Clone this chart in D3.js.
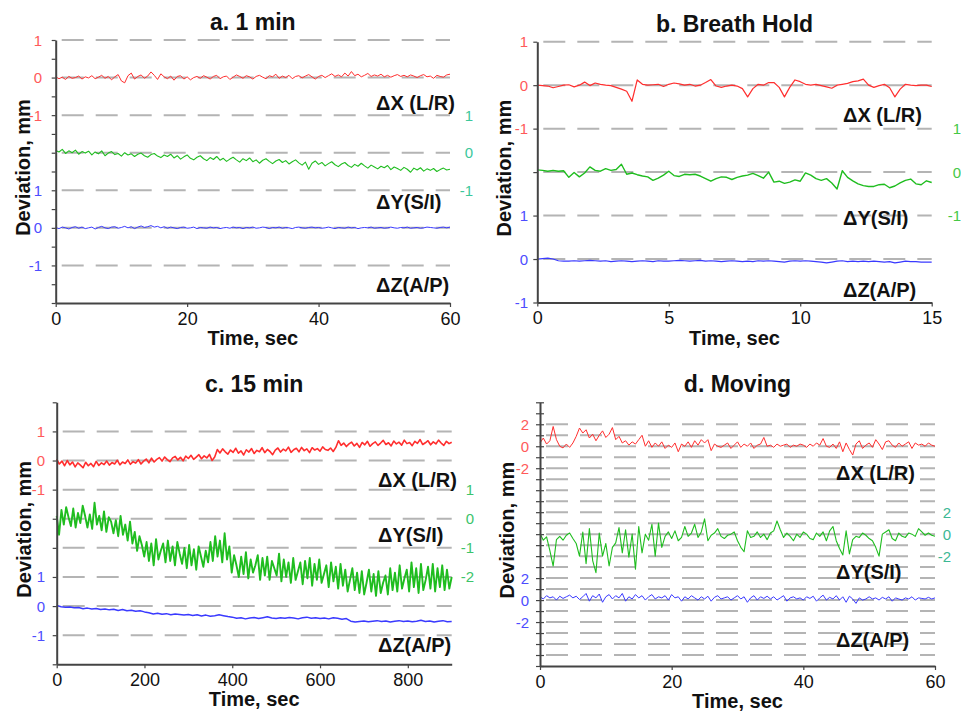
<!DOCTYPE html>
<html>
<head>
<meta charset="utf-8">
<script src="https://cdn.jsdelivr.net/npm/d3@7"></script>
<style>
  body { margin: 0; background: #fff; }
  svg { display: block; font-family: "Liberation Sans", Arial, sans-serif; }
</style>
</head>
<body>
<script>
// ---- data (mm deviation, sampled evenly over each run) ----
const redA = [0.02,-0.03,0.01,-0.05,0.03,-0.02,0.0,0.04,-0.04,0.02,
  -0.01,0.05,-0.03,0.01,0.06,-0.02,0.03,-0.06,0.02,0.08,
  -0.09,-0.14,0.05,0.12,-0.04,0.03,0.07,-0.02,0.04,0.15,
  0.06,-0.05,0.1,0.02,-0.03,0.04,-0.07,0.03,0.05,-0.04,
  0.02,-0.06,0.0,0.03,-0.02,0.05,0.01,-0.04,0.03,0.06,
  -0.03,0.02,0.04,-0.05,0.01,0.07,0.03,-0.02,0.05,0.02,
  -0.04,0.03,0.06,0.01,-0.03,0.05,0.02,0.09,-0.02,0.04,
  0.0,0.06,-0.03,0.03,0.05,-0.01,0.04,0.08,0.02,-0.04,
  0.03,0.06,0.0,0.05,0.1,0.03,0.07,0.02,0.12,0.04,
  0.16,0.05,0.09,0.02,0.06,0.11,0.03,0.07,0.04,0.09,
  0.02,0.06,0.01,0.05,0.08,0.03,0.06,0.02,0.07,0.04,
  0.0,0.05,0.08,0.02,0.04,-0.02,0.06,0.03,0.01,0.07,0.09];
const greenA = [0.06,0.02,0.09,-0.02,0.05,0.0,0.07,-0.04,0.03,-0.01,
  0.04,-0.06,0.02,-0.03,0.05,-0.08,-0.01,0.03,-0.05,-0.02,
  -0.09,0.0,-0.06,-0.03,-0.1,-0.04,-0.01,-0.08,-0.12,-0.05,
  -0.02,-0.09,-0.13,-0.06,-0.1,-0.04,-0.14,-0.08,-0.17,-0.11,
  -0.06,-0.15,-0.19,-0.12,-0.08,-0.16,-0.21,-0.13,-0.18,-0.1,
  -0.2,-0.15,-0.23,-0.17,-0.12,-0.19,-0.25,-0.16,-0.21,-0.14,
  -0.24,-0.19,-0.28,-0.2,-0.16,-0.23,-0.29,-0.22,-0.18,-0.26,
  -0.21,-0.3,-0.24,-0.19,-0.27,-0.33,-0.25,-0.44,-0.28,-0.22,
  -0.31,-0.26,-0.35,-0.29,-0.24,-0.32,-0.37,-0.3,-0.26,-0.34,
  -0.39,-0.31,-0.36,-0.28,-0.35,-0.41,-0.33,-0.38,-0.43,-0.36,
  -0.4,-0.34,-0.45,-0.38,-0.42,-0.47,-0.39,-0.44,-0.52,-0.41,
  -0.46,-0.4,-0.49,-0.43,-0.47,-0.42,-0.5,-0.45,-0.41,-0.46,-0.44];
const blueA = [0.01,-0.02,0.02,0.0,-0.03,0.01,0.03,-0.01,0.02,-0.02,
  0.0,0.02,-0.03,0.01,0.04,0.0,-0.02,0.02,0.03,-0.01,
  0.01,0.04,0.0,0.03,-0.02,0.02,0.05,0.01,0.03,0.06,
  0.02,0.04,0.0,0.03,-0.01,0.02,0.0,-0.02,0.01,0.02,
  -0.01,0.0,0.02,-0.02,0.01,0.0,-0.01,0.02,0.0,0.01,
  -0.02,0.0,0.01,-0.01,0.02,0.0,0.01,-0.02,0.01,0.0,
  0.02,-0.01,0.0,0.02,0.01,-0.02,0.01,0.0,0.02,-0.01,
  0.01,0.0,-0.02,0.01,0.02,0.0,-0.01,0.01,0.02,0.0,
  0.01,-0.01,0.0,0.02,0.0,-0.02,0.01,0.0,-0.01,0.02,
  0.0,0.01,-0.02,0.0,0.01,0.0,0.02,-0.01,0.0,0.01,
  -0.01,0.0,0.02,0.0,-0.01,0.01,0.0,0.02,-0.01,0.0,
  0.01,-0.01,0.0,0.02,0.01,0.0,-0.01,0.01,0.02,0.0,0.02];

const redB = [0.0,-0.01,-0.02,-0.06,-0.03,0.0,0.01,-0.04,0.0,0.07,
  -0.01,0.05,0.02,0.0,-0.01,-0.05,-0.09,-0.14,-0.37,0.12,
  0.02,0.0,0.01,0.02,-0.03,0.02,0.05,0.03,0.0,0.02,
  -0.02,0.0,0.06,0.13,-0.02,-0.05,-0.02,0.0,-0.02,-0.08,
  -0.27,-0.08,0.02,0.0,0.06,0.06,-0.05,-0.27,-0.05,0.12,
  0.08,0.02,0.0,0.02,-0.01,-0.04,-0.07,0.0,0.02,0.04,
  0.08,0.1,0.14,0.0,-0.05,-0.01,0.02,-0.06,-0.27,-0.09,
  0.02,0.0,-0.01,0.0,0.0,-0.03];
const greenB = [0.05,0.04,0.02,0.04,0.02,0.03,-0.12,-0.01,-0.11,-0.02,
  0.12,0.04,0.02,0.08,0.04,0.06,0.18,-0.05,-0.02,-0.06,
  -0.09,-0.11,-0.19,-0.14,-0.07,0.02,-0.08,-0.1,-0.05,-0.06,
  -0.05,-0.09,-0.15,-0.21,-0.15,-0.11,-0.12,-0.17,-0.12,-0.09,
  -0.07,-0.03,-0.08,-0.14,0.0,-0.23,-0.21,-0.26,-0.23,-0.18,
  -0.21,-0.02,-0.07,-0.15,-0.19,-0.15,-0.25,-0.39,0.03,-0.12,
  -0.2,-0.27,-0.31,-0.33,-0.33,-0.29,-0.28,-0.36,-0.32,-0.25,
  -0.19,-0.16,-0.27,-0.29,-0.2,-0.24];
const blueB = [0.0,0.01,0.02,0.0,-0.04,-0.05,-0.05,-0.04,-0.05,-0.04,
  -0.03,-0.04,-0.05,-0.04,-0.06,-0.05,-0.04,-0.05,-0.06,-0.05,
  -0.04,-0.05,-0.06,-0.04,-0.05,-0.05,-0.04,-0.03,-0.04,-0.05,
  -0.04,-0.03,-0.05,-0.04,-0.05,-0.06,-0.05,-0.04,-0.05,-0.06,
  -0.05,-0.06,-0.04,-0.05,-0.04,-0.05,-0.06,-0.07,-0.05,-0.04,
  -0.05,-0.04,-0.05,-0.06,-0.07,-0.09,-0.07,-0.05,-0.04,-0.06,
  -0.05,-0.06,-0.05,-0.06,-0.05,-0.06,-0.07,-0.06,-0.09,-0.07,
  -0.05,-0.06,-0.06,-0.07,-0.07,-0.07];

const redC = [0.05,-0.12,-0.02,-0.18,0.0,-0.15,-0.05,-0.22,-0.08,-0.16,
  -0.25,-0.06,-0.18,-0.1,-0.21,-0.03,-0.17,-0.08,-0.14,-0.02,
  -0.16,-0.07,-0.12,0.01,-0.15,-0.05,-0.1,0.02,-0.13,-0.04,
  -0.09,0.03,-0.12,-0.02,0.05,-0.08,0.08,-0.05,0.04,0.1,
  -0.02,0.12,0.03,-0.04,0.09,0.14,0.02,0.11,-0.01,0.15,
  0.07,0.18,0.04,0.12,0.2,0.06,0.16,0.09,0.21,0.0,
  0.12,0.38,0.26,0.4,0.3,0.22,0.36,0.28,0.42,0.25,
  0.33,0.19,0.37,0.29,0.41,0.24,0.35,0.3,0.44,0.27,
  0.38,0.31,0.2,0.36,0.43,0.29,0.39,0.33,0.46,0.28,
  0.37,0.42,0.3,0.45,0.34,0.4,0.27,0.44,0.36,0.41,
  0.32,0.47,0.38,0.35,0.43,0.31,0.45,0.68,0.52,0.6,
  0.48,0.57,0.63,0.5,0.59,0.45,0.62,0.54,0.66,0.49,
  0.58,0.64,0.52,0.6,0.69,0.55,0.61,0.5,0.67,0.57,
  0.63,0.53,0.7,0.58,0.62,0.51,0.66,0.59,0.72,0.55,
  0.61,0.68,0.54,0.64,0.57,0.7,0.6,0.52,0.66,0.58,0.63];
const greenC = [0.1,-0.55,0.3,-0.2,0.4,0.05,-0.25,0.35,-0.3,0.2,
  -0.15,0.45,0.1,-0.3,0.15,-0.35,0.55,-0.2,0.1,-0.4,
  0.25,-0.45,0.05,-0.1,-0.5,-0.05,-0.6,0.1,-0.55,-0.2,
  -0.75,-0.1,-0.85,-0.45,-1.1,-0.6,-0.9,-1.3,-0.8,-1.45,
  -0.85,-1.6,-0.7,-1.4,-1.1,-0.85,-1.5,-0.75,-1.45,-0.95,
  -1.6,-0.8,-1.2,-1.55,-1.0,-1.7,-0.9,-1.6,-1.05,-1.75,
  -0.95,-1.3,-1.65,-1.1,-1.5,-0.8,-1.45,-0.6,-1.3,-0.75,
  -1.5,-0.5,-1.4,-0.95,-1.85,-1.25,-1.6,-2.0,-1.3,-1.9,
  -1.15,-2.05,-1.4,-1.85,-1.6,-1.25,-2.1,-1.35,-1.95,-1.3,
  -2.1,-1.45,-1.7,-1.95,-1.2,-2.15,-1.4,-2.0,-1.5,-2.2,
  -1.35,-2.1,-1.8,-1.5,-2.25,-1.45,-2.05,-1.35,-2.3,-1.55,
  -2.1,-1.4,-2.2,-1.9,-1.6,-2.35,-1.5,-2.15,-1.65,-2.4,
  -1.55,-2.3,-1.75,-2.5,-2.1,-1.7,-2.45,-1.85,-2.55,-1.8,
  -2.6,-2.2,-1.75,-2.5,-1.9,-2.65,-1.8,-2.55,-2.2,-1.95,
  -2.6,-1.7,-2.45,-1.85,-2.5,-1.6,-2.4,-2.05,-1.75,-2.5,
  -1.5,-2.35,-1.7,-2.55,-1.55,-2.45,-2.1,-1.65,-2.4,-1.55,
  -2.5,-1.7,-2.35,-1.6,-2.45,-1.75,-2.4,-2.0];
const blueC = [0.02,-0.02,-0.04,-0.03,-0.06,-0.05,-0.09,-0.07,-0.1,-0.08,
  -0.12,-0.1,-0.13,-0.11,-0.15,-0.12,-0.16,-0.14,-0.18,-0.16,
  -0.2,-0.23,-0.27,-0.25,-0.28,-0.26,-0.3,-0.27,-0.29,-0.31,
  -0.29,-0.32,-0.3,-0.34,-0.31,-0.35,-0.33,-0.3,-0.33,-0.36,
  -0.38,-0.42,-0.4,-0.44,-0.41,-0.39,-0.43,-0.4,-0.37,-0.41,
  -0.43,-0.4,-0.42,-0.39,-0.41,-0.44,-0.4,-0.38,-0.42,-0.4,
  -0.43,-0.41,-0.44,-0.4,-0.42,-0.45,-0.43,-0.52,-0.55,-0.53,
  -0.51,-0.54,-0.52,-0.5,-0.53,-0.51,-0.55,-0.52,-0.5,-0.53,
  -0.51,-0.54,-0.52,-0.49,-0.53,-0.51,-0.55,-0.52,-0.5,-0.54,-0.53];

const redD = [0.3,0.75,0.2,0.5,1.8,0.6,0.0,-0.15,0.2,-0.1,
  0.3,0.9,1.66,1.2,1.5,0.75,1.1,0.5,1.0,1.4,
  0.8,1.1,1.7,0.6,0.9,0.3,0.5,0.1,0.4,0.2,
  0.6,1.0,0.0,0.5,-0.1,0.3,0.0,0.4,-0.2,0.1,
  -0.1,0.3,-0.5,0.2,0.0,0.4,-0.1,0.5,0.1,0.6,
  0.3,0.6,-0.4,0.2,0.0,-0.1,0.1,0.3,-0.2,0.1,
  0.4,-0.1,0.2,0.0,0.3,-0.2,0.1,0.2,0.8,0.0,
  0.1,-0.1,0.2,0.0,0.1,0.2,-0.1,0.1,0.0,0.2,
  0.1,-0.1,0.2,0.0,0.3,0.1,0.7,0.0,-0.1,0.2,
  -0.2,0.4,-0.5,0.3,-0.3,-0.8,0.2,0.5,-0.2,0.1,
  0.3,-0.1,0.6,0.2,-0.3,0.4,0.5,0.1,-0.1,0.3,
  0.0,0.2,0.4,-0.2,0.3,0.1,0.2,0.0,0.3,0.1,0.0];
const greenD = [0.06,-0.55,-0.24,-1.5,-2.9,-0.5,-0.2,-0.55,-0.1,0.1,
  -0.4,-0.85,-2.0,0.2,-2.7,0.5,-2.4,-3.5,0.1,-2.0,
  -0.85,-2.9,-1.2,-0.8,0.6,-1.7,0.4,-2.1,0.0,-3.2,
  0.7,-1.7,0.0,-0.55,0.9,-2.0,1.0,-1.2,-0.2,0.2,
  -0.4,0.3,-0.6,-0.3,0.7,-0.2,0.1,0.9,-0.3,0.2,
  1.4,-0.6,-0.1,0.1,0.5,-0.2,-0.4,-0.1,0.0,0.2,
  -0.6,-1.2,-1.6,0.3,-0.3,-0.2,0.2,-0.3,0.0,-0.5,
  0.1,0.3,1.2,0.4,-0.3,0.1,-0.2,-0.6,0.0,-0.3,
  0.2,0.0,-0.4,-0.5,0.1,-0.2,0.2,-0.6,0.3,0.7,
  -0.6,-1.3,-1.9,0.3,-1.8,-0.5,-0.2,-0.3,0.1,-0.1,
  -0.4,-0.6,-1.2,-2.0,0.0,0.2,0.4,-0.4,-0.6,0.1,
  -0.2,-0.3,0.1,0.0,-0.2,0.5,0.2,-0.1,0.1,-0.1,-0.2];
const blueD = [0.3,0.1,0.4,0.2,0.3,0.0,0.35,0.15,0.3,0.45,
  0.2,0.35,0.05,0.3,0.6,-0.1,0.4,0.2,0.55,-0.2,
  0.3,0.5,0.1,0.4,0.2,0.6,-0.1,0.3,0.1,0.5,
  0.2,0.4,0.0,0.3,0.5,0.1,0.3,0.2,0.4,0.0,
  0.5,0.2,0.3,-0.1,0.3,0.1,0.4,0.2,0.0,0.3,
  0.1,0.35,-0.1,0.25,0.4,0.1,0.2,0.3,0.0,0.2,
  0.4,0.1,0.3,-0.2,0.2,0.4,0.0,0.3,0.15,0.35,
  0.1,0.3,0.0,0.2,0.4,-0.1,0.2,0.3,0.1,0.2,
  0.0,0.3,0.15,0.35,-0.1,0.2,0.45,0.0,0.25,0.1,
  0.4,0.0,0.3,-0.2,0.35,0.1,-0.3,0.2,0.0,0.1,
  0.3,0.1,0.2,0.0,0.25,0.1,0.3,-0.1,0.2,0.1,
  0.0,0.2,0.1,0.3,0.0,0.2,0.15,0.1,0.25,0.1,0.2];

const titles = ["a. 1 min", "b. Breath Hold", "c. 15 min", "d. Moving"];
const timeMax = [60, 15, 900, 60];
const timeTicks = [[0, 20, 40, 60], [0, 5, 10, 15], [0, 200, 400, 600, 800], [0, 20, 40, 60]];
const scaleTicks = [[-1, 0, 1], [-1, 0, 1], [-1, 0, 1], [-2, 0, 2]];
const greenTicksC = [-2, -1, 0, 1];
const seriesNames = ["\u0394X (L/R)", "\u0394Y(S/I)", "\u0394Z(A/P)"];

// ---- layout per panel ----
const panels = [
  { data: [redA, greenA, blueA], x0: 55.7, x1: 450, top: 40, bottom: 303, units: 7, grid: 7,
    off: [6, 4, 2], minor: 0.5, lw: [1, 1.1, 1], lblX: 376, lblU: [5.32, 2.69, 0.48],
    leftX: 42, rightX: 473, greenCol: "#3cc79a", gTicks: scaleTicks[0], cross: false },
  { data: [redB, greenB, blueB], x0: 537.3, x1: 931.7, top: 41.7, bottom: 302.5, units: 6, grid: 6,
    off: [5, 3, 1], minor: 1, lw: [1.2, 1.4, 1.2], lblX: 843, lblU: [4.31, 1.94, 0.29],
    leftX: 528, rightX: 961, greenCol: "#45c845", gTicks: scaleTicks[1], cross: false },
  { data: [redC, greenC, blueC], x0: 56.7, x1: 451.7, top: 402.3, bottom: 664.3, units: 9, grid: 8,
    off: [7, 5, 2], minor: 1, lw: [1.6, 1.9, 1.5], lblX: 378, lblU: [6.33, 4.44, 0.66],
    leftX: 45, rightX: 474, greenCol: "#3cc46a", gTicks: greenTicksC, cross: false },
  { data: [redD, greenD, blueD], x0: 540, x1: 935, top: 402.3, bottom: 666, units: 24, grid: 22,
    off: [20, 12, 6], minor: 1, lw: [1, 1.1, 1], lblX: 836, lblU: [17.56, 8.55, 2.37],
    leftX: 529, rightX: 951, greenCol: "#3cb894", gTicks: scaleTicks[3], cross: true }
];

const traceCol = ["#ff2e2e", "#1fbd1f", "#3a3aff"];
const leftCol = ["#ff5a5a", null, "#4d4dff"];

const svg = d3.select("body").append("svg")
  .attr("width", 961)
  .attr("height", 711);

panels.forEach(function(p, pi) {
  const x = d3.scaleLinear().domain([0, timeMax[pi]]).range([p.x0, p.x1]);
  const y = d3.scaleLinear().domain([0, p.units]).range([p.bottom, p.top]);
  const g = svg.append("g");

  // dashed grid
  g.append("g").selectAll("line")
    .data(d3.range(1, p.grid + 1))
    .join("line")
    .attr("x1", p.x0 + 6).attr("x2", p.x1)
    .attr("y1", d => y(d)).attr("y2", d => y(d))
    .attr("stroke", "#b4b4b4")
    .attr("stroke-width", 2)
    .attr("stroke-dasharray", "22,12");

  // traces
  p.data.forEach(function(vals, k) {
    const idx = d3.scaleLinear().domain([0, vals.length - 1]).range([0, timeMax[pi]]);
    const line = d3.line()
      .x((d, i) => x(idx(i)))
      .y(d => y(d + p.off[k]));
    g.append("path")
      .datum(vals)
      .attr("d", line)
      .attr("fill", "none")
      .attr("stroke", traceCol[k])
      .attr("stroke-width", p.lw[k])
      .attr("stroke-linejoin", "round");
  });

  // y axis
  const yTicks = d3.range(0, p.units + 0.001, p.minor);
  g.append("g")
    .attr("transform", "translate(" + p.x0 + ",0)")
    .call(d3.axisLeft(y).tickValues(yTicks).tickFormat("").tickSize(4).tickSizeOuter(0));
  if (p.cross) {
    g.append("g")
      .attr("transform", "translate(" + p.x0 + ",0)")
      .call(d3.axisRight(y).tickValues(yTicks).tickFormat("").tickSize(4).tickSizeOuter(0))
      .select(".domain").remove();
  }

  // x axis
  const xa = g.append("g")
    .attr("transform", "translate(0," + p.bottom + ")")
    .call(d3.axisBottom(x).tickValues(timeTicks[pi]).tickSize(4).tickSizeOuter(0).tickPadding(5));
  xa.selectAll("text").attr("font-size", 18).attr("fill", "#111").attr("font-family", null);

  g.selectAll(".domain").attr("stroke", "#444").attr("stroke-width", 2);
  g.selectAll(".tick line").attr("stroke", "#444").attr("stroke-width", 1.2);

  // left scale labels for X (red) and Z (blue)
  [0, 2].forEach(function(k) {
    g.append("g").selectAll("text")
      .data(scaleTicks[pi])
      .join("text")
      .attr("x", p.leftX)
      .attr("y", d => y(d + p.off[k]))
      .attr("text-anchor", "end")
      .attr("dominant-baseline", "central")
      .attr("font-size", 15)
      .attr("fill", leftCol[k])
      .text(d => String(d));
  });

  // right scale labels for Y (green)
  g.append("g").selectAll("text")
    .data(p.gTicks)
    .join("text")
    .attr("x", p.rightX)
    .attr("y", d => y(d + p.off[1]))
    .attr("text-anchor", "end")
    .attr("dominant-baseline", "central")
    .attr("font-size", 15)
    .attr("fill", p.greenCol)
    .text(d => String(d));

  // series names
  g.append("g").selectAll("text")
    .data(seriesNames)
    .join("text")
    .attr("x", p.lblX)
    .attr("y", (d, i) => y(p.lblU[i]))
    .attr("dominant-baseline", "central")
    .attr("font-size", 20)
    .attr("font-weight", "bold")
    .attr("fill", "#111")
    .text(d => d);

  // title
  const mid = (p.x0 + p.x1) / 2;
  g.append("text")
    .attr("x", mid).attr("y", p.top - 10)
    .attr("text-anchor", "middle")
    .attr("font-size", 23).attr("font-weight", "bold").attr("fill", "#111")
    .text(titles[pi]);

  // axis titles
  g.append("text")
    .attr("x", mid).attr("y", p.bottom + 42)
    .attr("text-anchor", "middle")
    .attr("font-size", 20).attr("font-weight", "bold").attr("fill", "#111")
    .text("Time, sec");

  g.append("text")
    .attr("transform", "translate(" + (p.x0 - 33) + "," + ((p.top + p.bottom) / 2 - 4) + ") rotate(-90)")
    .attr("text-anchor", "middle")
    .attr("dominant-baseline", "central")
    .attr("font-size", 20).attr("font-weight", "bold").attr("fill", "#111")
    .text("Deviation, mm");
});
</script>
</body>
</html>
